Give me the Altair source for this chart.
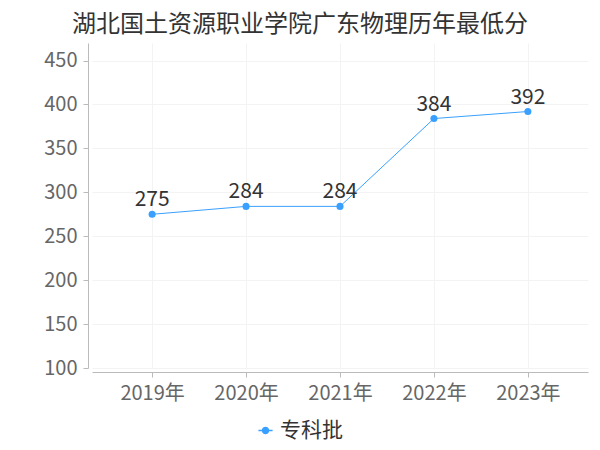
import altair as alt
import pandas as pd

years = ["2019年", "2020年", "2021年", "2022年", "2023年"]
scores = [275, 284, 284, 384, 392]
series = ["专科批"] * 5

df = pd.DataFrame({"year": years, "score": scores, "batch": series})

FONT = "Noto Sans CJK SC"
BLUE = "#3AA0FF"

x = alt.X("year:N", sort=years, title=None,
          scale=alt.Scale(type="point", padding=0.64),
          axis=alt.Axis(labelAngle=0, labelFontSize=20, labelColor="#666666",
                        labelFont=FONT, domainColor="#bbbbbb", tickColor="#bbbbbb",
                        tickSize=5, offset=4, grid=True, gridColor="#f3f3f3",
                        labelPadding=6))
y = alt.Y("score:Q", title=None,
          scale=alt.Scale(domain=[100, 470], nice=False, zero=False),
          axis=alt.Axis(values=[100, 150, 200, 250, 300, 350, 400, 450],
                        labelFontSize=20, labelColor="#666666", labelFont=FONT,
                        domainColor="#bbbbbb", tickColor="#bbbbbb", tickSize=5,
                        offset=4, grid=True, gridColor="#f3f3f3", labelPadding=6))

legend_symbol = ("M-1,0L1,0M-0.42,0A0.42,0.42 0 1,1 0.42,0"
                 "A0.42,0.42 0 1,1 -0.42,0Z")

color = alt.Color("batch:N", scale=alt.Scale(range=[BLUE]),
                  legend=alt.Legend(title=None, orient="none", legendX=163, legendY=377,
                                    labelFontSize=21, labelFont=FONT, labelColor="#333333",
                                    symbolType=legend_symbol, symbolStrokeWidth=1.5,
                                    symbolSize=200, symbolFillColor=BLUE,
                                    symbolStrokeColor=BLUE, labelOffset=4))

line = alt.Chart(df).mark_line(strokeWidth=1, point=alt.OverlayMarkDef(size=50, filled=True, color=BLUE)).encode(
    x=x, y=y, color=color
)

labels = alt.Chart(df).mark_text(dy=-14, fontSize=21, font=FONT, color="#333333").encode(
    x=alt.X("year:N", sort=years), y="score:Q", text="score:Q"
)

chart = (line + labels).properties(
    width=496, height=325,
    autosize=alt.AutoSizeParams(type="none"),
    padding={"left": 84, "top": 35, "right": 4, "bottom": 80},
    title=alt.TitleParams("湖北国土资源职业学院广东物理历年最低分", fontSize=24, font=FONT,
                          color="#333333", fontWeight="normal", anchor="middle", dx=-40, offset=6)
).configure_view(stroke=None)

chart.save("out.html", embed_options={"renderer": "svg", "actions": False})
